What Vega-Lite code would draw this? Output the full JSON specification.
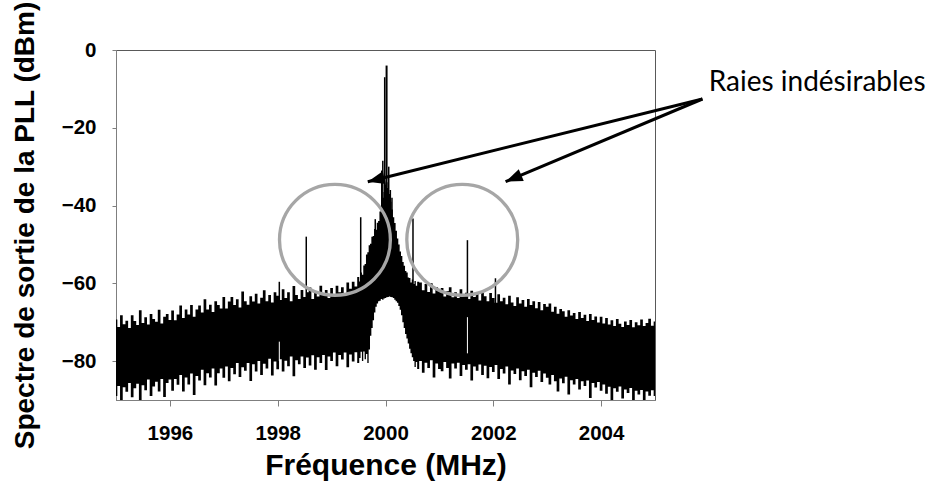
{
  "$schema": "https://vega.github.io/schema/vega-lite/v6.json",
  "width": 539,
  "height": 350,
  "autosize": {"type": "none"},
  "padding": {"left": 116, "top": 50, "right": 273, "bottom": 90},
  "background": "white",
  "config": {
    "view": {"stroke": "#595959", "strokeWidth": 1},
    "axis": {
      "grid": false,
      "domainColor": "#7f7f7f",
      "tickColor": "#7f7f7f",
      "labelFont": "Liberation Sans",
      "labelFontWeight": "bold",
      "labelFontSize": 20.5,
      "labelColor": "#000000",
      "titleFont": "Liberation Sans",
      "titleFontWeight": "bold",
      "titleFontSize": 28,
      "titleColor": "#000000"
    }
  },
  "datasets": {
    "noise": [
      {"f":1995.00,"hi":-69.3,"lo":-89.0},{"f":1995.05,"hi":-71.2,"lo":-86.4},{"f":1995.10,"hi":-68.2,"lo":-90.0},{"f":1995.15,"hi":-70.5,"lo":-86.7},
      {"f":1995.20,"hi":-69.6,"lo":-87.9},{"f":1995.25,"hi":-71.5,"lo":-85.6},{"f":1995.30,"hi":-68.2,"lo":-89.3},{"f":1995.35,"hi":-69.7,"lo":-87.0},
      {"f":1995.40,"hi":-70.7,"lo":-85.8},{"f":1995.45,"hi":-66.9,"lo":-90.0},{"f":1995.50,"hi":-70.2,"lo":-86.2},{"f":1995.55,"hi":-68.7,"lo":-87.5},
      {"f":1995.60,"hi":-70.6,"lo":-84.7},{"f":1995.65,"hi":-67.9,"lo":-89.0},{"f":1995.70,"hi":-69.2,"lo":-86.5},{"f":1995.75,"hi":-69.9,"lo":-85.3},
      {"f":1995.80,"hi":-66.8,"lo":-87.8},{"f":1995.85,"hi":-70.3,"lo":-84.6},{"f":1995.90,"hi":-68.6,"lo":-89.2},{"f":1995.95,"hi":-67.9,"lo":-85.6},
      {"f":1996.00,"hi":-69.4,"lo":-84.7},{"f":1996.05,"hi":-67.0,"lo":-87.6},{"f":1996.10,"hi":-69.5,"lo":-84.6},{"f":1996.15,"hi":-68.0,"lo":-86.1},
      {"f":1996.20,"hi":-65.7,"lo":-83.6},{"f":1996.25,"hi":-68.9,"lo":-87.8},{"f":1996.30,"hi":-66.7,"lo":-84.2},{"f":1996.35,"hi":-68.0,"lo":-86.0},
      {"f":1996.40,"hi":-65.6,"lo":-83.2},{"f":1996.45,"hi":-68.6,"lo":-88.7},{"f":1996.50,"hi":-66.7,"lo":-83.8},{"f":1996.55,"hi":-65.7,"lo":-85.0},
      {"f":1996.60,"hi":-67.5,"lo":-82.2},{"f":1996.65,"hi":-64.1,"lo":-86.2},{"f":1996.70,"hi":-66.7,"lo":-83.1},{"f":1996.75,"hi":-65.5,"lo":-84.2},
      {"f":1996.80,"hi":-67.4,"lo":-81.9},{"f":1996.85,"hi":-64.6,"lo":-86.3},{"f":1996.90,"hi":-65.6,"lo":-83.1},{"f":1996.95,"hi":-66.5,"lo":-81.9},
      {"f":1997.00,"hi":-63.5,"lo":-84.3},{"f":1997.05,"hi":-66.5,"lo":-81.4},{"f":1997.10,"hi":-64.7,"lo":-85.2},{"f":1997.15,"hi":-63.5,"lo":-81.8},
      {"f":1997.20,"hi":-65.6,"lo":-83.4},{"f":1997.25,"hi":-64.1,"lo":-80.5},{"f":1997.30,"hi":-66.2,"lo":-84.1},{"f":1997.35,"hi":-62.1,"lo":-81.6},
      {"f":1997.40,"hi":-64.6,"lo":-82.5},{"f":1997.45,"hi":-65.5,"lo":-80.5},{"f":1997.50,"hi":-63.3,"lo":-85.1},{"f":1997.55,"hi":-64.7,"lo":-80.8},
      {"f":1997.60,"hi":-62.7,"lo":-82.7},{"f":1997.65,"hi":-65.2,"lo":-80.0},{"f":1997.70,"hi":-63.7,"lo":-83.6},{"f":1997.75,"hi":-61.8,"lo":-80.7},
      {"f":1997.80,"hi":-64.6,"lo":-81.9},{"f":1997.85,"hi":-63.0,"lo":-79.4},{"f":1997.90,"hi":-64.9,"lo":-83.7},{"f":1997.95,"hi":-62.3,"lo":-80.1},
      {"f":1998.00,"hi":-63.2,"lo":-82.1},{"f":1998.05,"hi":-64.3,"lo":-79.5},{"f":1998.10,"hi":-61.5,"lo":-82.7},{"f":1998.15,"hi":-63.8,"lo":-79.9},
      {"f":1998.20,"hi":-62.3,"lo":-81.3},{"f":1998.25,"hi":-64.6,"lo":-78.8},{"f":1998.30,"hi":-60.7,"lo":-83.9},{"f":1998.35,"hi":-63.0,"lo":-79.8},
      {"f":1998.40,"hi":-64.0,"lo":-80.8},{"f":1998.45,"hi":-61.7,"lo":-78.8},{"f":1998.50,"hi":-63.5,"lo":-81.8},{"f":1998.55,"hi":-62.3,"lo":-79.1},
      {"f":1998.60,"hi":-61.1,"lo":-81.1},{"f":1998.65,"hi":-64.0,"lo":-78.5},{"f":1998.70,"hi":-62.3,"lo":-82.2},{"f":1998.75,"hi":-63.4,"lo":-79.0},
      {"f":1998.80,"hi":-60.6,"lo":-80.5},{"f":1998.85,"hi":-62.9,"lo":-78.4},{"f":1998.90,"hi":-61.7,"lo":-82.3},{"f":1998.95,"hi":-63.8,"lo":-78.8},
      {"f":1999.00,"hi":-61.2,"lo":-80.0},{"f":1999.05,"hi":-63.0,"lo":-77.8},{"f":1999.10,"hi":-60.6,"lo":-81.3},{"f":1999.15,"hi":-62.3,"lo":-78.4},
      {"f":1999.20,"hi":-61.0,"lo":-79.6},{"f":1999.25,"hi":-62.7,"lo":-77.8},{"f":1999.30,"hi":-59.8,"lo":-81.6},{"f":1999.35,"hi":-61.4,"lo":-78.3},
      {"f":1999.40,"hi":-59.6,"lo":-80.1},{"f":1999.45,"hi":-60.8,"lo":-77.7},{"f":1999.50,"hi":-58.4,"lo":-80.5},
      {"f":1999.525,"hi":-59.5,"lo":-79.2},{"f":1999.55,"hi":-57.2,"lo":-77.6},{"f":1999.575,"hi":-57.8,"lo":-80.0},{"f":1999.60,"hi":-55.4,"lo":-77.5},
      {"f":1999.625,"hi":-55.0,"lo":-79.5},{"f":1999.65,"hi":-52.6,"lo":-78.2},{"f":1999.675,"hi":-52.0,"lo":-80.5},{"f":1999.70,"hi":-50.2,"lo":-77.0},
      {"f":1999.725,"hi":-49.8,"lo":-73.5},{"f":1999.75,"hi":-48.0,"lo":-71.5},{"f":1999.775,"hi":-47.8,"lo":-69.5},{"f":1999.80,"hi":-46.0,"lo":-67.5},
      {"f":1999.825,"hi":-46.2,"lo":-66.0},{"f":1999.85,"hi":-44.4,"lo":-65.2},{"f":1999.875,"hi":-44.0,"lo":-64.6},{"f":1999.90,"hi":-41.5,"lo":-64.5},
      {"f":1999.925,"hi":-40.5,"lo":-64.0},{"f":1999.95,"hi":-38.0,"lo":-64.2},{"f":1999.975,"hi":-36.5,"lo":-63.9},{"f":2000.00,"hi":-34.5,"lo":-63.8},
      {"f":2000.025,"hi":-34.0,"lo":-63.6},{"f":2000.05,"hi":-35.5,"lo":-63.5},{"f":2000.075,"hi":-37.0,"lo":-63.4},{"f":2000.10,"hi":-39.0,"lo":-63.5},
      {"f":2000.125,"hi":-41.0,"lo":-63.6},{"f":2000.15,"hi":-43.0,"lo":-63.8},{"f":2000.175,"hi":-44.5,"lo":-64.2},{"f":2000.20,"hi":-46.5,"lo":-64.6},
      {"f":2000.225,"hi":-48.5,"lo":-65.0},{"f":2000.25,"hi":-50.0,"lo":-65.8},{"f":2000.275,"hi":-51.8,"lo":-66.8},{"f":2000.30,"hi":-53.0,"lo":-68.2},
      {"f":2000.325,"hi":-54.5,"lo":-70.0},{"f":2000.35,"hi":-55.5,"lo":-71.5},{"f":2000.375,"hi":-56.8,"lo":-73.0},{"f":2000.40,"hi":-57.2,"lo":-74.2},
      {"f":2000.425,"hi":-58.5,"lo":-75.5},{"f":2000.45,"hi":-58.6,"lo":-76.8},{"f":2000.475,"hi":-59.8,"lo":-78.0},{"f":2000.50,"hi":-59.0,"lo":-79.0},
      {"f":2000.525,"hi":-60.2,"lo":-80.0},{"f":2000.55,"hi":-59.4,"lo":-81.5},{"f":2000.575,"hi":-60.6,"lo":-80.2},{"f":2000.60,"hi":-59.6,"lo":-82.0},
      {"f":2000.65,"hi":-59.8,"lo":-80.0},{"f":2000.70,"hi":-61.8,"lo":-83.0},{"f":2000.75,"hi":-60.2,"lo":-80.4},{"f":2000.80,"hi":-62.2,"lo":-81.8},
      {"f":2000.85,"hi":-60.0,"lo":-79.8},{"f":2000.90,"hi":-62.6,"lo":-84.2},{"f":2000.95,"hi":-61.0,"lo":-80.6},{"f":2001.00,"hi":-62.0,"lo":-82.0},
      {"f":2001.05,"hi":-61.2,"lo":-82.6},{"f":2001.10,"hi":-63.4,"lo":-80.2},{"f":2001.15,"hi":-62.0,"lo":-81.8},{"f":2001.20,"hi":-61.0,"lo":-84.5},
      {"f":2001.25,"hi":-63.6,"lo":-80.6},{"f":2001.30,"hi":-62.3,"lo":-81.9},{"f":2001.35,"hi":-63.8,"lo":-80.4},{"f":2001.40,"hi":-61.5,"lo":-83.8},
      {"f":2001.45,"hi":-63.1,"lo":-81.0},{"f":2001.50,"hi":-62.4,"lo":-82.2},{"f":2001.55,"hi":-64.0,"lo":-80.8},{"f":2001.60,"hi":-61.9,"lo":-85.0},
      {"f":2001.65,"hi":-63.5,"lo":-81.4},{"f":2001.70,"hi":-62.2,"lo":-82.5},{"f":2001.75,"hi":-64.4,"lo":-80.9},{"f":2001.80,"hi":-62.0,"lo":-83.6},
      {"f":2001.85,"hi":-63.3,"lo":-81.2},{"f":2001.90,"hi":-64.6,"lo":-84.4},{"f":2001.95,"hi":-62.5,"lo":-81.5},{"f":2002.00,"hi":-63.8,"lo":-82.8},
      {"f":2002.05,"hi":-65.0,"lo":-81.0},{"f":2002.10,"hi":-62.8,"lo":-84.6},{"f":2002.15,"hi":-64.6,"lo":-82.0},{"f":2002.20,"hi":-63.7,"lo":-83.2},
      {"f":2002.25,"hi":-65.4,"lo":-81.4},{"f":2002.30,"hi":-63.2,"lo":-86.0},{"f":2002.35,"hi":-64.9,"lo":-82.4},{"f":2002.40,"hi":-65.8,"lo":-83.3},
      {"f":2002.45,"hi":-63.6,"lo":-81.9},{"f":2002.50,"hi":-65.2,"lo":-84.9},{"f":2002.55,"hi":-64.3,"lo":-82.6},{"f":2002.60,"hi":-66.0,"lo":-83.8},
      {"f":2002.65,"hi":-64.0,"lo":-82.2},{"f":2002.70,"hi":-65.6,"lo":-86.7},{"f":2002.75,"hi":-64.6,"lo":-83.0},{"f":2002.80,"hi":-66.4,"lo":-84.1},
      {"f":2002.85,"hi":-64.8,"lo":-82.5},{"f":2002.90,"hi":-66.9,"lo":-85.4},{"f":2002.95,"hi":-65.3,"lo":-83.2},{"f":2003.00,"hi":-66.0,"lo":-84.3},
      {"f":2003.05,"hi":-65.2,"lo":-86.0},{"f":2003.10,"hi":-67.3,"lo":-83.6},{"f":2003.15,"hi":-66.0,"lo":-85.2},{"f":2003.20,"hi":-67.8,"lo":-87.8},
      {"f":2003.25,"hi":-66.6,"lo":-84.5},{"f":2003.30,"hi":-67.2,"lo":-85.7},{"f":2003.35,"hi":-68.6,"lo":-84.0},{"f":2003.40,"hi":-66.9,"lo":-88.6},
      {"f":2003.45,"hi":-68.3,"lo":-84.9},{"f":2003.50,"hi":-67.6,"lo":-86.0},{"f":2003.55,"hi":-69.2,"lo":-84.6},{"f":2003.60,"hi":-67.4,"lo":-87.3},
      {"f":2003.65,"hi":-68.9,"lo":-85.2},{"f":2003.70,"hi":-68.1,"lo":-86.4},{"f":2003.75,"hi":-69.7,"lo":-85.0},{"f":2003.80,"hi":-67.9,"lo":-89.5},
      {"f":2003.85,"hi":-69.4,"lo":-85.6},{"f":2003.90,"hi":-68.5,"lo":-86.8},{"f":2003.95,"hi":-70.1,"lo":-85.4},{"f":2004.00,"hi":-68.6,"lo":-87.6},
      {"f":2004.05,"hi":-70.3,"lo":-86.0},{"f":2004.10,"hi":-68.9,"lo":-88.4},{"f":2004.15,"hi":-70.6,"lo":-86.6},{"f":2004.20,"hi":-69.5,"lo":-90.0},
      {"f":2004.25,"hi":-71.0,"lo":-87.0},{"f":2004.30,"hi":-69.2,"lo":-87.9},{"f":2004.35,"hi":-70.4,"lo":-86.5},{"f":2004.40,"hi":-71.2,"lo":-89.6},
      {"f":2004.45,"hi":-69.8,"lo":-87.3},{"f":2004.50,"hi":-70.7,"lo":-88.2},{"f":2004.55,"hi":-69.4,"lo":-86.9},{"f":2004.60,"hi":-71.3,"lo":-90.0},
      {"f":2004.65,"hi":-70.0,"lo":-87.6},{"f":2004.70,"hi":-70.8,"lo":-88.6},{"f":2004.75,"hi":-69.3,"lo":-87.4},{"f":2004.80,"hi":-71.0,"lo":-90.0},
      {"f":2004.85,"hi":-70.2,"lo":-87.8},{"f":2004.90,"hi":-69.1,"lo":-88.9},{"f":2004.95,"hi":-70.9,"lo":-87.5},{"f":2005.00,"hi":-69.8,"lo":-89.0}
    ],
    "spikes": [
      {"f":1999.985,"top":-7,"bot":-40},
      {"f":1999.95,"top":-28.5,"bot":-45},
      {"f":1999.93,"top":-31,"bot":-45},
      {"f":2000.06,"top":-30,"bot":-45},
      {"f":2000.09,"top":-36,"bot":-45},
      {"f":2000.12,"top":-38,"bot":-48},
      {"f":1999.81,"top":-43.5,"bot":-50},
      {"f":1999.54,"top":-43,"bot":-62},
      {"f":2000.51,"top":-43.3,"bot":-62},
      {"f":1998.53,"top":-48,"bot":-66},
      {"f":2001.52,"top":-48.9,"bot":-66},
      {"f":2002.04,"top":-58.7,"bot":-66},
      {"f":1998.03,"top":-59.6,"bot":-66}
    ],
    "carrier": [{"f":2000.02,"top":-4,"bot":-62}],
    "gaps": [
      {"f":2001.52,"top":-68.7,"bot":-78},
      {"f":1998.03,"top":-75,"bot":-80}
    ],
    "circles": [
      {"f":1999.062,"v":-48.8},
      {"f":2001.424,"v":-48.8}
    ],
    "arrows": [
      {"id":"a1","f0":2005.88,"v0":-12.6,"f1":1999.671,"v1":-33.87,"hf":1999.8245,"hv":-33.34},
      {"id":"a2","f0":2005.88,"v0":-12.6,"f1":2002.228,"v1":-33.87,"hf":2002.3735,"hv":-33.02}
    ],
    "label": [{"f":2005.997,"v":-10.47,"t":"Raies indésirables"}]
  },
  "layer": [
    {
      "data": {"name": "noise"},
      "mark": {"type": "area", "color": "#000000", "interpolate": "step"},
      "encoding": {
        "x": {"field": "f", "type": "quantitative", "scale": {"domain": [1995, 2005], "nice": false, "zero": false},
              "axis": {"title": "Fréquence (MHz)", "values": [1996, 1998, 2000, 2002, 2004], "format": "d", "tickSize": 6, "labelPadding": 17, "titlePadding": 7, "titleFontSize": 30}},
        "y": {"field": "hi", "type": "quantitative", "scale": {"domain": [-90, 0], "nice": false, "zero": false},
              "axis": {"title": "Spectre de sortie de la PLL (dBm)", "values": [0, -20, -40, -60, -80], "tickSize": 4, "labelPadding": 16, "titlePadding": 22}},
        "y2": {"field": "lo"}
      }
    },
    {
      "data": {"name": "spikes"},
      "mark": {"type": "rule", "color": "#000000", "strokeWidth": 1.5},
      "encoding": {
        "x": {"field": "f", "type": "quantitative"},
        "y": {"field": "top", "type": "quantitative"},
        "y2": {"field": "bot"}
      }
    },
    {
      "data": {"name": "carrier"},
      "mark": {"type": "rule", "color": "#000000", "strokeWidth": 2},
      "encoding": {
        "x": {"field": "f", "type": "quantitative"},
        "y": {"field": "top", "type": "quantitative"},
        "y2": {"field": "bot"}
      }
    },
    {
      "data": {"name": "gaps"},
      "mark": {"type": "rule", "color": "#ffffff", "strokeWidth": 1},
      "encoding": {
        "x": {"field": "f", "type": "quantitative"},
        "y": {"field": "top", "type": "quantitative"},
        "y2": {"field": "bot"}
      }
    },
    {
      "data": {"name": "circles"},
      "mark": {"type": "point", "shape": "circle", "filled": false, "stroke": "#a6a6a6", "strokeWidth": 3.3, "size": 12300, "opacity": 1},
      "encoding": {
        "x": {"field": "f", "type": "quantitative"},
        "y": {"field": "v", "type": "quantitative"}
      }
    },
    {
      "data": {"name": "arrows"},
      "mark": {"type": "rule", "color": "#000000", "strokeWidth": 3},
      "encoding": {
        "x": {"field": "f0", "type": "quantitative"},
        "y": {"field": "v0", "type": "quantitative"},
        "x2": {"field": "f1"},
        "y2": {"field": "v1"}
      }
    },
    {
      "data": {"name": "arrows"},
      "transform": [{"filter": "datum.id === 'a1'"}],
      "mark": {"type": "point", "shape": "M0,-1L-0.76,1L0.76,1Z", "filled": true, "color": "#000000", "size": 289, "angle": 256.1, "opacity": 1},
      "encoding": {
        "x": {"field": "hf", "type": "quantitative"},
        "y": {"field": "hv", "type": "quantitative"}
      }
    },
    {
      "data": {"name": "arrows"},
      "transform": [{"filter": "datum.id === 'a2'"}],
      "mark": {"type": "point", "shape": "M0,-1L-0.76,1L0.76,1Z", "filled": true, "color": "#000000", "size": 289, "angle": 247.2, "opacity": 1},
      "encoding": {
        "x": {"field": "hf", "type": "quantitative"},
        "y": {"field": "hv", "type": "quantitative"}
      }
    },
    {
      "data": {"name": "label"},
      "mark": {"type": "text", "font": "Lato", "fontSize": 28, "align": "left", "baseline": "alphabetic", "color": "#000000"},
      "encoding": {
        "x": {"field": "f", "type": "quantitative"},
        "y": {"field": "v", "type": "quantitative"},
        "text": {"field": "t"}
      }
    }
  ]
}
